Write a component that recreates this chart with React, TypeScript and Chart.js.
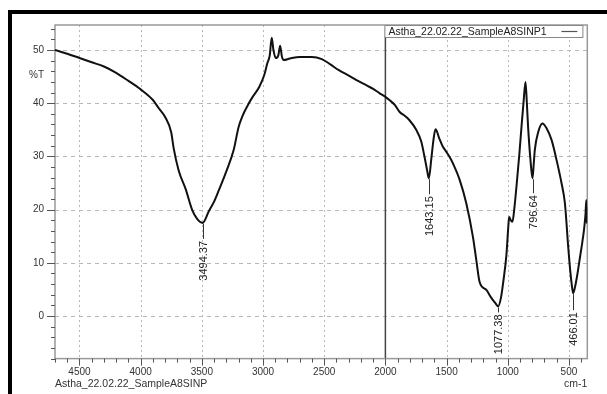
import React, { useEffect, useRef } from "react";
import { Chart, registerables } from "chart.js";

Chart.register(...registerables);

// IR spectrum: wavenumber (cm-1) vs %T
const wavenumbers = [
  4700, 4600, 4500, 4400, 4300, 4200, 4100, 4000, 3900, 3850, 3800, 3750, 3730, 3690, 3630, 3580, 3540, 3494,
  3443, 3400, 3360, 3300, 3240, 3200, 3170, 3120, 3090, 3030, 2990, 2965, 2945, 2929, 2915, 2896, 2875, 2860,
  2846, 2832, 2780, 2700, 2600, 2520, 2450, 2380, 2300, 2240, 2150, 2100, 2049, 2000, 1967, 1920, 1885, 1840,
  1803, 1748, 1707, 1680, 1660, 1645, 1625, 1605, 1590, 1560, 1530, 1503, 1475, 1448, 1393, 1339, 1284, 1257,
  1230, 1175, 1134, 1100, 1079, 1055, 1038, 1011, 995, 989, 975, 962, 945, 929, 905, 888, 870, 855, 845, 834,
  815, 798, 788, 779, 751, 716, 683, 642, 601, 560, 533, 506, 495, 480, 466, 450, 430, 410, 390, 377, 365, 358,
  355, 352, 350,
];
const transmittance = [
  50.0, 49.3, 48.5, 47.7, 46.9, 45.7, 44.2, 42.6, 40.6, 39.0, 37.4, 34.5, 31.5, 27.4, 23.7, 20.0, 18.3, 17.5,
  19.7, 21.5, 23.7, 27.2, 31.2, 35.5, 37.5, 39.8, 41.0, 43.1, 45.3, 47.5, 49.0, 52.3, 50.0, 48.5, 49.0, 50.8,
  48.8, 48.1, 48.4, 48.7, 48.7, 48.3, 47.3, 46.2, 45.2, 44.4, 43.3, 42.7, 41.9, 41.2, 40.6, 39.6, 38.4, 37.6,
  36.8, 35.0, 32.8, 29.9, 27.5, 25.9, 29.5, 33.5, 35.1, 33.4, 31.8, 30.9, 29.9, 28.7, 25.6, 21.2, 14.8, 10.5,
  6.4, 4.9, 3.4, 2.4, 1.8, 3.5, 6.2, 11.5, 17.0, 18.6, 18.0, 17.7, 20.5, 24.3, 30.5, 35.5, 40.5, 44.0, 40.5, 35.6,
  29.5, 25.9, 28.5, 31.2, 34.6, 36.2, 35.3, 33.1, 29.3, 24.9, 21.2, 13.0, 9.9, 6.5, 4.3, 5.5, 8.0, 11.0, 14.0, 16.2,
  19.0, 21.8, 17.5, 20.5, 19.5,
];

const xTickValues = [4500, 4000, 3500, 3000, 2500, 2000, 1500, 1000, 500];
const yTickValues = [0, 10, 20, 30, 40, 50];

const peakWavenumbers = [3494.37, 1643.15, 1077.38, 796.64, 466.01];
const peakTransmittance = [17.5, 25.9, 1.8, 25.9, 4.3];
const peakLeaderLengths = [16, 16, 6, 15, 17];

const seriesName = "Astha_22.02.22_SampleA8SINP1";
const footerName = "Astha_22.02.22_SampleA8SINP";
const xUnit = "cm-1";
const yTitle = "%T";

const X_MIN = 350;
const X_MAX = 4700;
const Y_MIN = -8;
const Y_MAX = 54.7;

const FONT = "'Liberation Sans', Arial, sans-serif";

const decorPlugin = {
  id: "decor",
  beforeDatasetsDraw(chart: any) {
    const { ctx, chartArea } = chart;
    const xs = chart.scales.x;
    const ys = chart.scales.y;
    const { left, right, top, bottom } = chartArea;
    ctx.save();
    // grid
    ctx.strokeStyle = "#b8b8b8";
    ctx.lineWidth = 1;
    ctx.setLineDash([2, 3]);
    xTickValues.forEach((v) => {
      if (v === 2000) return;
      const px = Math.round(xs.getPixelForValue(v)) + 0.5;
      ctx.beginPath();
      ctx.moveTo(px, top);
      ctx.lineTo(px, bottom);
      ctx.stroke();
    });
    ctx.setLineDash([4, 4]);
    yTickValues.forEach((v) => {
      const py = Math.round(ys.getPixelForValue(v)) + 0.5;
      ctx.beginPath();
      ctx.moveTo(left, py);
      ctx.lineTo(right, py);
      ctx.stroke();
    });
    ctx.setLineDash([]);
    // 2000 divider
    const p2000 = xs.getPixelForValue(2000);
    ctx.strokeStyle = "#444";
    ctx.lineWidth = 1.5;
    ctx.beginPath();
    ctx.moveTo(p2000, top);
    ctx.lineTo(p2000, bottom);
    ctx.stroke();
    // frame
    ctx.strokeStyle = "#999";
    ctx.lineWidth = 1.5;
    ctx.strokeRect(left, top, right - left, bottom - top);
    // tick marks
    ctx.strokeStyle = "#555";
    ctx.lineWidth = 1;
    for (let v = 400; v <= 4700; v += 100) {
      const px = Math.round(xs.getPixelForValue(v)) + 0.5;
      const len = v % 500 === 0 ? 7 : 4;
      ctx.beginPath();
      ctx.moveTo(px, bottom);
      ctx.lineTo(px, bottom + len);
      ctx.stroke();
    }
    for (let v = -8; v <= 54; v += 2) {
      const py = Math.round(ys.getPixelForValue(v)) + 0.5;
      const len = v % 10 === 0 ? 8 : 4;
      ctx.beginPath();
      ctx.moveTo(left - len, py);
      ctx.lineTo(left, py);
      ctx.stroke();
    }
    ctx.restore();
  },
  afterDatasetsDraw(chart: any) {
    const { ctx, chartArea } = chart;
    const xs = chart.scales.x;
    const ys = chart.scales.y;
    const { left, right, top, bottom } = chartArea;
    ctx.save();
    // peak labels
    ctx.strokeStyle = "#333";
    ctx.fillStyle = "#222";
    ctx.lineWidth = 1;
    ctx.font = `11px ${FONT}`;
    peakWavenumbers.forEach((w, i) => {
      const px = Math.round(xs.getPixelForValue(w)) + 0.5;
      const py = ys.getPixelForValue(peakTransmittance[i]);
      const lead = peakLeaderLengths[i];
      ctx.beginPath();
      ctx.moveTo(px, py + 1);
      ctx.lineTo(px, py + lead);
      ctx.stroke();
      ctx.save();
      ctx.translate(px, py + lead + 2);
      ctx.rotate(-Math.PI / 2);
      ctx.textAlign = "right";
      ctx.textBaseline = "middle";
      ctx.fillText(w.toFixed(2), 0, 0);
      ctx.restore();
    });
    // legend box
    const bx = xs.getPixelForValue(2000) - 1;
    const bw = 198;
    const bh = 12;
    ctx.fillStyle = "#fff";
    ctx.fillRect(bx, top, bw, bh);
    ctx.strokeStyle = "#888";
    ctx.lineWidth = 1;
    ctx.strokeRect(bx + 0.5, top + 0.5, bw, bh);
    ctx.fillStyle = "#222";
    ctx.font = `10.5px ${FONT}`;
    ctx.textAlign = "left";
    ctx.textBaseline = "middle";
    ctx.fillText(seriesName, bx + 4, top + bh / 2 + 1);
    ctx.strokeStyle = "#555";
    ctx.lineWidth = 1.2;
    ctx.beginPath();
    ctx.moveTo(bx + 177, top + bh / 2 + 0.5);
    ctx.lineTo(bx + 193, top + bh / 2 + 0.5);
    ctx.stroke();
    // y title
    ctx.fillStyle = "#333";
    ctx.font = `10px ${FONT}`;
    ctx.textAlign = "right";
    ctx.textBaseline = "middle";
    ctx.fillText(yTitle, left - 11, ys.getPixelForValue(45.3));
    // footer
    ctx.font = `10.5px ${FONT}`;
    ctx.textAlign = "left";
    ctx.fillText(footerName, left, bottom + 26);
    ctx.textAlign = "right";
    ctx.fillText(xUnit, right, bottom + 26);
    ctx.restore();
  },
};

export default function App() {
  const canvasRef = useRef<HTMLCanvasElement | null>(null);

  useEffect(() => {
    const canvas = canvasRef.current;
    if (!canvas) return;
    const points = wavenumbers.map((w, i) => ({ x: w, y: transmittance[i] }));
    const chart = new Chart(canvas, {
      type: "line",
      data: {
        datasets: [
          {
            label: seriesName,
            data: points,
            borderColor: "#111",
            borderWidth: 2,
            pointRadius: 0,
            cubicInterpolationMode: "monotone",
            fill: false,
          },
        ],
      },
      options: {
        responsive: false,
        animation: false,
        layout: { padding: { left: 0, top: 25, right: 19.7, bottom: 0 } },
        plugins: { legend: { display: false }, tooltip: { enabled: false } },
        scales: {
          x: {
            type: "linear",
            reverse: true,
            min: X_MIN,
            max: X_MAX,
            grid: { display: false, drawTicks: false },
            border: { display: false },
            afterBuildTicks(scale: any) {
              scale.ticks = xTickValues.map((v) => ({ value: v }));
            },
            ticks: {
              autoSkip: false,
              maxRotation: 0,
              minRotation: 0,
              padding: 8,
              color: "#333",
              font: { family: FONT, size: 10 },
              callback: (v: any) => String(v),
            },
            afterFit(scale: any) {
              scale.height = 35.4;
            },
          },
          y: {
            type: "linear",
            min: Y_MIN,
            max: Y_MAX,
            grid: { display: false, drawTicks: false },
            border: { display: false },
            afterBuildTicks(scale: any) {
              scale.ticks = yTickValues.map((v) => ({ value: v }));
            },
            ticks: {
              autoSkip: false,
              padding: 11,
              color: "#333",
              font: { family: FONT, size: 10 },
              callback: (v: any) => String(v),
            },
            afterFit(scale: any) {
              scale.width = 55;
            },
          },
        },
      },
      plugins: [decorPlugin],
    } as any);
    return () => chart.destroy();
  }, []);

  return (
    <div style={{ position: "absolute", left: 0, top: 0, width: 607, height: 394, background: "#fff", overflow: "hidden" }}>
      <canvas ref={canvasRef} width={607} height={394} style={{ position: "absolute", left: 0, top: 0 }} />
      <div style={{ position: "absolute", left: 8, top: 10, width: 620, height: 400, borderLeft: "4px solid #000", borderTop: "4px solid #000", pointerEvents: "none" }} />
    </div>
  );
}
